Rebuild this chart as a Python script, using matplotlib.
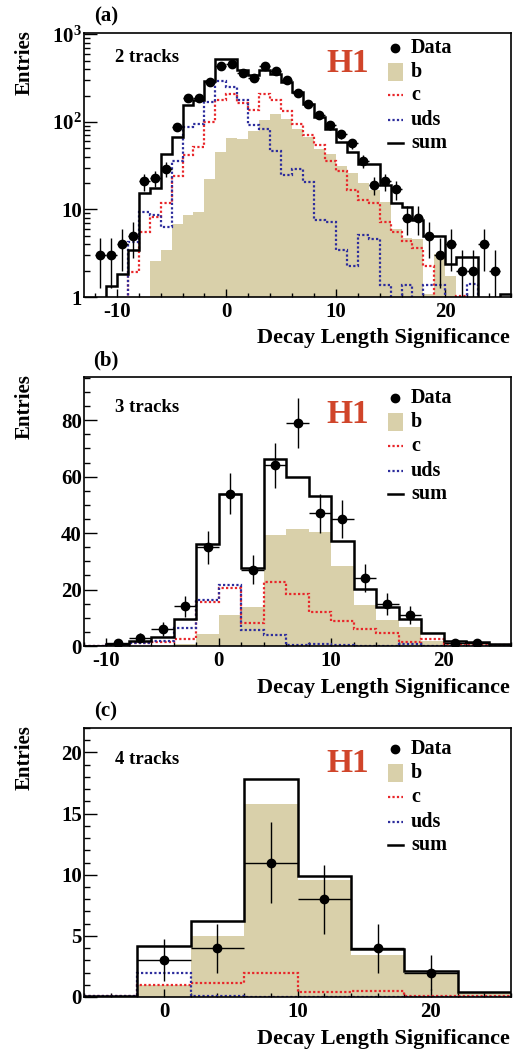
import numpy as np
import matplotlib
matplotlib.use('Agg')
import matplotlib.pyplot as plt
from matplotlib.lines import Line2D
from matplotlib.patches import Rectangle
from matplotlib.ticker import MultipleLocator, FixedLocator, FixedFormatter, NullFormatter

plt.rcParams['font.family'] = ['Liberation Serif', 'DejaVu Serif']
plt.rcParams['font.weight'] = 'bold'
plt.rcParams['mathtext.fontset'] = 'custom'
plt.rcParams['mathtext.rm'] = 'Liberation Serif:bold'
plt.rcParams['mathtext.bf'] = 'Liberation Serif:bold'
plt.rcParams['mathtext.it'] = 'Liberation Serif:bold'
plt.rcParams['axes.unicode_minus'] = False

# ---------------- data ----------------
# (a) 2 tracks: bins of width 1 from -13 to 26
edges_a = np.arange(-13, 27, 1)
data_a = [0, 3, 3, 4, 5, 21, 23, 29, 87, 187, 187, 285, 435, 454, 361, 320, 435, 381,
          303, 214, 159, 121, 91, 73, 57, 36, 19, 21, 17, 8, 8, 5, 3, 4, 2, 2, 4, 2, 0]
sum_a = [0, 0, 1.34, 1.85, 3.4, 15.4, 17.6, 43, 67, 154, 176, 291, 518, 518, 395, 340, 390,
         355, 285, 219, 161, 113, 83, 59, 45, 33, 33, 19, 11.8, 10.6, 7.5, 5, 5, 2.4, 2.86,
         2.86, 0.9, 0.9, 1.07]
b_a = [0, 0, 0, 0, 0, 0, 2.58, 3.47, 6.9, 8.6, 9.3, 22.5, 45, 66, 64, 79, 104, 124, 108,
       83, 67, 49, 43, 31, 26, 20, 16.5, 12.1, 6.0, 4.77, 4.6, 1.09, 3.1, 1.72, 0.95, 0, 0, 0, 0]
c_a = [0, 0, 0, 0, 1.93, 5.5, 8.2, 11.9, 23.9, 41.7, 51.6, 99.6, 176, 207, 165, 138, 207,
       176, 133, 95, 70, 54, 36, 27.5, 16.5, 12.9, 11.9, 7.2, 5.5, 4.4, 3.66, 2.24, 0,
       0.95, 1.04, 0.95, 0, 0, 0]
uds_a = [0, 0, 0, 0, 4.25, 9.3, 8.6, 6.3, 36, 87, 95, 168, 290, 250, 176, 91, 83, 47, 24.5,
         29, 20.5, 7.6, 7.2, 3.4, 2.24, 5.06, 4.6, 1.36, 0.9, 1.36, 0.9, 1.36, 1.36, 0, 0,
         1.42, 0, 0, 0]

# (b) 3 tracks: bins of width 2 from -12 to 26
edges_b = np.arange(-12, 27, 2)
data_b = [0, 1, 3, 6, 14, 35, 54, 27, 64, 79, 47, 45, 24, 15, 11, 0, 1, 1, 0]
sum_b = [0, 0.8, 1.9, 3.1, 9.6, 36.3, 53.7, 27.5, 66.2, 59.9, 53.1, 37.3, 20.3, 13.9, 9.4,
         4.6, 1.9, 1.3, 0.75]
b_b = [0, 0.1, 0, 0.1, 0.8, 4.1, 11, 13.7, 39.2, 41.3, 40.4, 28.3, 14.4, 9.2, 6.9, 1.9,
       1.0, 0.8, 0.4]
c_b = [0, 0.3, 0.9, 1.4, 2.6, 15.7, 20.4, 8.0, 22.5, 18.4, 12.2, 8.85, 5.9, 4.7, 1.3, 2.6,
       0.6, 0.35, 0.2]
uds_b = [0, 0.4, 0.9, 1.6, 6.2, 16.3, 21.6, 5.7, 3.9, 0.2, 0.6, 0.2, 0.1, 0.1, 0.7, 0.1,
         0.1, 0.1, 0.1]

# (c) 4 tracks: bins of width 4 from -6 to 26
edges_c = np.arange(-6, 27, 4)
data_c = [0, 3, 4, 11, 8, 4, 2, 0]
sum_c = [0.05, 4.15, 6.2, 17.8, 9.9, 3.93, 2.13, 0.38]
b_c = [0, 1.0, 5.0, 15.8, 9.55, 3.4, 1.96, 0.3]
c_c = [0.05, 1.0, 1.12, 2.0, 0.41, 0.49, 0.05, 0.05]
uds_c = [0.05, 2.0, 0.05, 0.02, 0.02, 0.02, 0.02, 0.02]

panel_labels = ['(a)', '(b)', '(c)']
track_labels = ['2 tracks', '3 tracks', '4 tracks']
legend_labels = ['Data', 'b', 'c', 'uds', 'sum']
xlabel = 'Decay Length Significance'
ylabel = 'Entries'

# ---------------- style ----------------
W, H = 523, 1050
TAN = '#d9d0aa'
RED = '#e8262a'
BLUE = '#2c2c9c'
H1C = '#d0452a'
DOT = (0, (1.0, 1.0))
LW_DOT = 1.6
LW_SUM = 1.8
MS = 6

fig = plt.figure(figsize=(W / 100, H / 100), dpi=100)


def fx(x):
    return x / W


def fy(y):
    return 1 - y / H


def make_axes(l, t, r, b):
    return fig.add_axes([fx(l), fy(b), (r - l) / W, (b - t) / H])


panels = [
    dict(edges=edges_a, data=data_a, tot=sum_a, b=b_a, c=c_a, uds=uds_a,
         rect=(84, 33, 511, 297), xlim=(-13, 26), ylim=(1, 1035), log=True,
         ymaj=None, ymin=None, top=33, leg=[48, 72, 95, 120, 143], trk=58, h1=63,
         xl=338),
    dict(edges=edges_b, data=data_b, tot=sum_b, b=b_b, c=c_b, uds=uds_b,
         rect=(84, 377, 511, 646), xlim=(-12, 26), ylim=(0, 95.3), log=False,
         ymaj=20, ymin=5, top=377, leg=[398, 422, 446, 471, 494], trk=408, h1=414,
         xl=688),
    dict(edges=edges_c, data=data_c, tot=sum_c, b=b_c, c=c_c, uds=uds_c,
         rect=(84, 728, 511, 997), xlim=(-6, 26), ylim=(0, 22), log=False,
         ymaj=5, ymin=1, top=728, leg=[749, 773, 797, 822, 845], trk=759, h1=764,
         xl=1039),
]

for i, p in enumerate(panels):
    ax = make_axes(*p['rect'])
    edges = np.asarray(p['edges'], float)
    if p['log']:
        ax.set_yscale('log', nonpositive='clip')
        base = 1e-3
    else:
        base = 0
    ax.stairs(p['b'], edges, fill=True, color=TAN, baseline=base, zorder=1, lw=0)
    ax.stairs(p['c'], edges, baseline=None, color=RED, lw=LW_DOT, linestyle=DOT, zorder=2)
    ax.stairs(p['uds'], edges, baseline=None, color=BLUE, lw=LW_DOT, linestyle=DOT, zorder=2)
    ax.stairs(p['tot'], edges, baseline=None, color='black', lw=LW_SUM, zorder=3)

    d = np.asarray(p['data'], float)
    centers = 0.5 * (edges[:-1] + edges[1:])
    half = 0.5 * np.diff(edges)
    m = d > 0
    ax.errorbar(centers[m], d[m], yerr=np.sqrt(d[m]), xerr=half[m], fmt='o',
                color='black', ms=MS, elinewidth=1.0, capsize=0, zorder=5)

    ax.set_xlim(*p['xlim'])
    ax.set_ylim(*p['ylim'])
    for s in ax.spines.values():
        s.set_linewidth(1.2)

    ax.xaxis.set_major_locator(MultipleLocator(10))
    ax.xaxis.set_minor_locator(MultipleLocator(2))
    if p['log']:
        ax.yaxis.set_major_locator(FixedLocator([1, 10, 100, 1000]))
        ax.yaxis.set_major_formatter(FixedFormatter(
            ['1', '10', r'$\mathbf{10^{2}}$', r'$\mathbf{10^{3}}$']))
        minors = [k * 10 ** e for e in range(0, 3) for k in range(2, 10)]
        ax.yaxis.set_minor_locator(FixedLocator(minors))
        ax.yaxis.set_minor_formatter(NullFormatter())
    else:
        ax.yaxis.set_major_locator(MultipleLocator(p['ymaj']))
        ax.yaxis.set_minor_locator(MultipleLocator(p['ymin']))

    ax.tick_params(axis='x', which='major', direction='in', length=6, width=1,
                   top=False, labelsize=15, pad=3.5)
    ax.tick_params(axis='x', which='minor', direction='in', length=3, width=1, top=False)
    ax.tick_params(axis='y', which='major', direction='in', length=9, width=1,
                   right=False, labelsize=15, pad=1.5)
    ax.tick_params(axis='y', which='minor', direction='in', length=4.5, width=1,
                   right=False)
    for lab in ax.get_xticklabels() + ax.get_yticklabels():
        lab.set_fontweight('bold')

    # texts
    fig.text(fx(106), fy(p['top'] - 17), panel_labels[i], ha='center', va='center',
             fontsize=15, fontweight='bold')
    fig.text(fx(25), fy(p['top'] - 3), ylabel, rotation=90, ha='center', va='top',
             fontsize=15, fontweight='bold')
    fig.text(fx(510), fy(p['xl']), xlabel, ha='right', va='center', fontsize=16,
             fontweight='bold')
    fig.text(fx(115), fy(p['trk']), track_labels[i], ha='left', va='center',
             fontsize=13.5, fontweight='bold')
    fig.text(fx(348), fy(p['h1']), 'H1', ha='center', va='center', fontsize=24,
             fontweight='bold', color=H1C)

    # legend
    ly = p['leg']
    sx0, sx1, sxc, tx = 388, 403, 395.5, 411
    fig.add_artist(Line2D([fx(sxc)], [fy(ly[0])], marker='o', ms=MS, color='black',
                          transform=fig.transFigure))
    fig.add_artist(Rectangle((fx(sx0), fy(ly[1] + 9)), (sx1 - sx0) / W, 18 / H,
                             facecolor=TAN, edgecolor='none', transform=fig.transFigure))
    fig.add_artist(Line2D([fx(sx0), fx(sx1)], [fy(ly[2])] * 2, color=RED, lw=LW_DOT,
                          linestyle=DOT, transform=fig.transFigure))
    fig.add_artist(Line2D([fx(sx0), fx(sx1)], [fy(ly[3])] * 2, color=BLUE, lw=LW_DOT,
                          linestyle=DOT, transform=fig.transFigure))
    fig.add_artist(Line2D([fx(sx0), fx(sx1)], [fy(ly[4])] * 2, color='black', lw=LW_SUM,
                          transform=fig.transFigure))
    for y, lab in zip(ly, legend_labels):
        fig.text(fx(tx), fy(y), lab, ha='left', va='center', fontsize=14.5,
                 fontweight='bold')

fig.savefig('out.png', dpi=100)
